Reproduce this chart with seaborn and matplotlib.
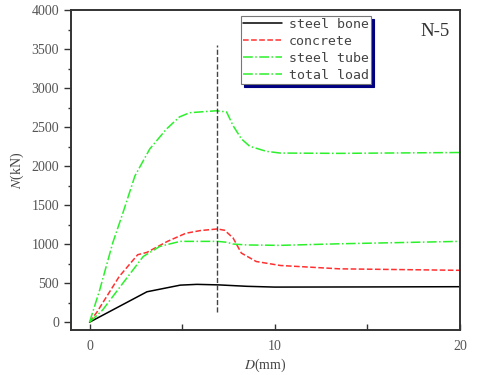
import matplotlib
matplotlib.use("Agg")
import matplotlib.pyplot as plt
import pandas as pd
import seaborn as sns

# datos (D en mm, N en kN)
D_bone = [0, 3.1, 4.9, 5.8, 7.0, 8.5, 10, 15, 20]
N_bone = [0, 390, 475, 485, 478, 460, 450, 452, 455]

D_conc = [0, 0.4, 1.6, 2.6, 3.1, 4.2, 5.2, 6.0, 6.9, 7.3, 7.75, 8.2, 9.0, 10.3, 13.5, 20]
N_conc = [0, 130, 585, 865, 895, 1035, 1140, 1175, 1195, 1178, 1080, 886, 778, 727, 684, 665]

D_tube = [0, 0.7, 1.8, 2.9, 3.8, 4.9, 6.9, 7.4, 7.75, 8.5, 10.3, 13.5, 20]
N_tube = [0, 155, 500, 843, 972, 1036, 1036, 1025, 1002, 990, 985, 1005, 1036]

D_total = [0, 0.55, 1.25, 1.8, 2.45, 3.25, 4.15, 4.85, 5.4, 6.85, 7.4, 7.75, 8.2, 8.65, 9.55, 10.3, 13.5, 20]
N_total = [0, 415, 1015, 1400, 1875, 2220, 2475, 2630, 2685, 2710, 2695, 2520, 2350, 2255, 2190, 2168, 2164, 2175]

D_peak = 6.9
N_peak_line = [130, 3550]

series = [
    ("steel bone", D_bone, N_bone, "black", "-"),
    ("concrete", D_conc, N_conc, "#ff3030", "--"),
    ("steel tube", D_tube, N_tube, "#2cf02c", "-."),
    ("total load", D_total, N_total, "#2cf02c", "-."),
]

sns.set_style("ticks")
plt.rcParams["font.family"] = ["Liberation Serif", "DejaVu Serif"]
plt.rcParams["mathtext.fontset"] = "stix"

fig = plt.figure(figsize=(4.8, 3.75), dpi=100)
ax = fig.add_axes([0.148, 0.12, 0.81, 0.853])

for nombre, d, n, color, ls in series:
    df = pd.DataFrame({"D": d, "N": n})
    sns.lineplot(data=df, x="D", y="N", ax=ax, color=color, linestyle=ls,
                 linewidth=1.1, label=nombre, sort=False)

ax.vlines(D_peak, N_peak_line[0], N_peak_line[1], colors="#444444",
          linestyles="--", linewidth=1.0)

ax.set_xlim(-1, 20)
ax.set_ylim(-100, 4000)
ax.set_xticks([0, 10, 20])
ax.set_xticks([5, 15], minor=True)
ax.set_yticks(range(0, 4001, 500))
ax.set_yticks(range(250, 4000, 500), minor=True)

ax.tick_params(axis="x", which="both", direction="in", length=4, width=1,
               labelsize=10, colors="#333333", labelcolor="#555555", pad=7)
ax.tick_params(axis="y", which="major", direction="out", length=5, width=1,
               labelsize=10, colors="#333333", labelcolor="#555555")
ax.tick_params(axis="y", which="minor", direction="out", length=2.5, width=1,
               colors="#333333")

for s in ax.spines.values():
    s.set_visible(True)
    s.set_linewidth(1.4)
    s.set_color("#333333")

ax.set_xlabel(r"$D$(mm)", fontsize=10, color="#444444", labelpad=3)
ax.set_ylabel(r"$N$(kN)", fontsize=10, color="#444444")

ax.text(0.975, 0.96, "N-5", transform=ax.transAxes, ha="right", va="top",
        fontsize=13.5, color="#333333")

leg = ax.legend(loc="upper left", bbox_to_anchor=(0.43, 0.99), fontsize=9.5,
                frameon=True, fancybox=False, handlelength=3.0,
                borderpad=0.15, labelspacing=0.3, handletextpad=0.5,
                borderaxespad=0.2,
                shadow={"color": "#000080", "alpha": 1})
leg.get_frame().set_edgecolor("#777777")
leg.get_frame().set_linewidth(0.8)
for t in leg.get_texts():
    t.set_family(["DejaVu Sans Mono"])
    t.set_color("#444444")

fig.savefig("out.png", dpi=100, facecolor="white")
